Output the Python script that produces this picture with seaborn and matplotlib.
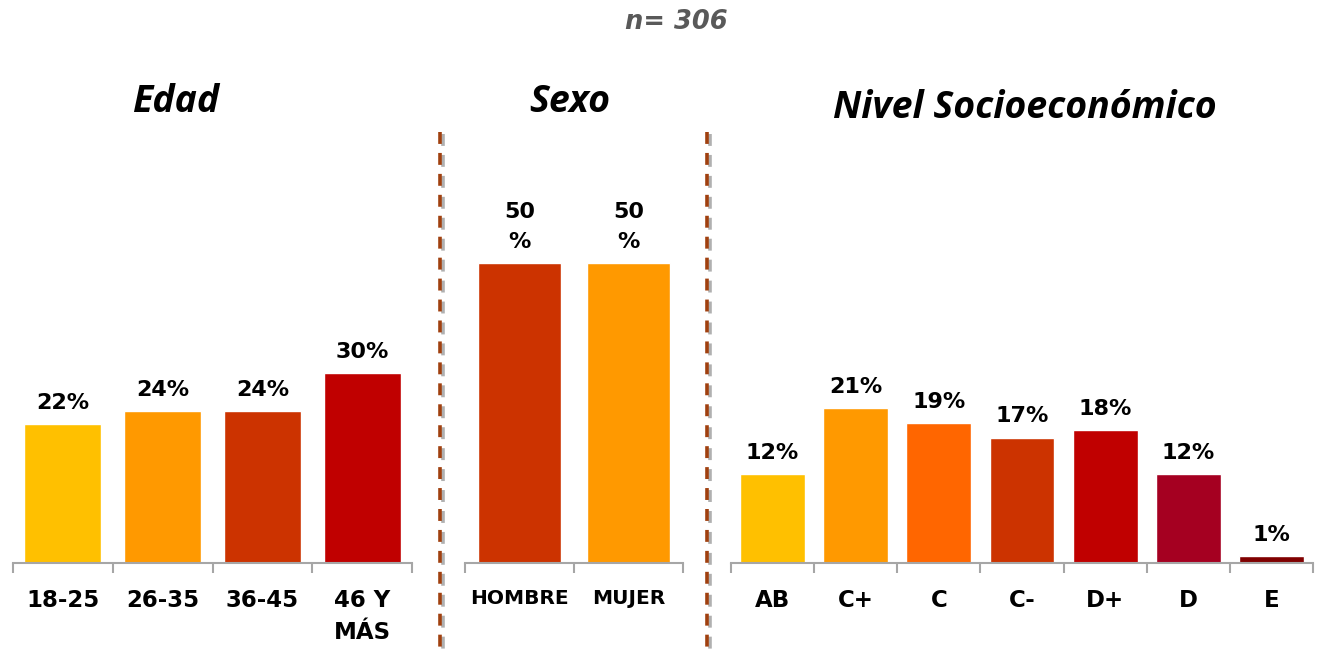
import matplotlib
matplotlib.use("Agg")
import matplotlib.pyplot as plt
import seaborn as sns
import pandas as pd
from matplotlib.lines import Line2D

sns.set_theme(style="white")
plt.rcParams['font.family'] = ['DejaVu Sans']

edad_cats = ["18-25", "26-35", "36-45", "46 Y\nMÁS"]
edad_vals = [22, 24, 24, 30]
edad_colors = ["#FFC000", "#FF9900", "#CC3300", "#C00000"]

sexo_cats = ["HOMBRE", "MUJER"]
sexo_vals = [50, 50]
sexo_colors = ["#CC3300", "#FF9900"]

nse_cats = ["AB", "C+", "C", "C-", "D+", "D", "E"]
nse_vals = [12, 21, 19, 17, 18, 12, 1]
nse_colors = ["#FFC000", "#FF9900", "#FF6600", "#CC3300", "#C00000", "#A50021", "#800000"]

titles = ["Edad", "Sexo", "Nivel Socioeconómico"]
n_text = "n= 306"

W, H = 1319, 655
fig = plt.figure(figsize=(W / 100, H / 100), dpi=100)

base = 563
top = 130
specs = [
    (13, 412, edad_cats, edad_vals, edad_colors, 68.4, 0.77, 16.5, ["{}%".format(v) for v in edad_vals]),
    (465, 683, sexo_cats, sexo_vals, sexo_colors, 72.2, 0.77, 14.5, ["{}\n%".format(v) for v in sexo_vals]),
    (731, 1313, nse_cats, nse_vals, nse_colors, 58.7, 0.78, 16.5, ["{}%".format(v) for v in nse_vals]),
]
title_pos = [(176, 102), (570, 102), (1025, 108)]

for i, (x0, x1, cats, vals, cols, ymax, bw, tfs, labs) in enumerate(specs):
    ax = fig.add_axes([x0 / W, (H - base) / H, (x1 - x0) / W, (base - top) / H])
    df = pd.DataFrame({"cat": cats, "val": vals})
    sns.barplot(data=df, x="cat", y="val", hue="cat", palette=cols, legend=False,
                width=bw, ax=ax, saturation=1, dodge=False)
    ax.set_xlim(-0.5, len(cats) - 0.5)
    ax.set_ylim(0, ymax)
    ax.set_xlabel("")
    ax.set_ylabel("")
    ax.set_yticks([])
    for s in ["top", "left", "right"]:
        ax.spines[s].set_visible(False)
    ax.spines["bottom"].set_color("#A6A6A6")
    ax.spines["bottom"].set_linewidth(1.5)
    ax.set_xticks(range(len(cats)))
    ax.set_xticklabels(cats, fontsize=tfs, fontweight="bold", color="#000000",
                       linespacing=1.5, va="top")
    ax.set_xticks([k - 0.5 for k in range(len(cats) + 1)], minor=True)
    ax.tick_params(axis="x", which="major", length=0, pad=19)
    ax.tick_params(axis="x", which="minor", length=7, width=1.5, color="#A6A6A6", direction="out", bottom=True)
    bars = sorted([p for p in ax.patches if p.get_height() > 0], key=lambda p: p.get_x())
    for p, lab in zip(bars, labs):
        ax.annotate(lab, (p.get_x() + p.get_width() / 2, p.get_height()),
                    xytext=(0, 8), textcoords="offset points", ha="center", va="bottom",
                    fontsize=16, fontweight="bold", color="#000000", linespacing=1.65)
    tx, ty = title_pos[i]
    fig.text(tx / W, 1 - ty / H, titles[i], ha="center", va="center",
             fontsize=27, fontweight="bold", style="italic", color="#000000",
             family=["Open Sans", "DejaVu Sans"])

fig.text(676 / W, 1 - 22 / H, n_text, ha="center", va="center",
         fontsize=18.5, fontweight="bold", style="italic", color="#595959")

for xs in [440, 707]:
    xf = xs / W
    fig.add_artist(Line2D([xf + 3 / W, xf + 3 / W], [1 - 134 / H, 0], color="#B0B0B0",
                          lw=2.6, linestyle=(0, (3.3, 2.5)), transform=fig.transFigure))
    fig.add_artist(Line2D([xf, xf], [1 - 132 / H, 0], color="#A0400F",
                          lw=2.6, linestyle=(0, (3.3, 2.5)), transform=fig.transFigure))

fig.savefig("out.png", dpi=100)
